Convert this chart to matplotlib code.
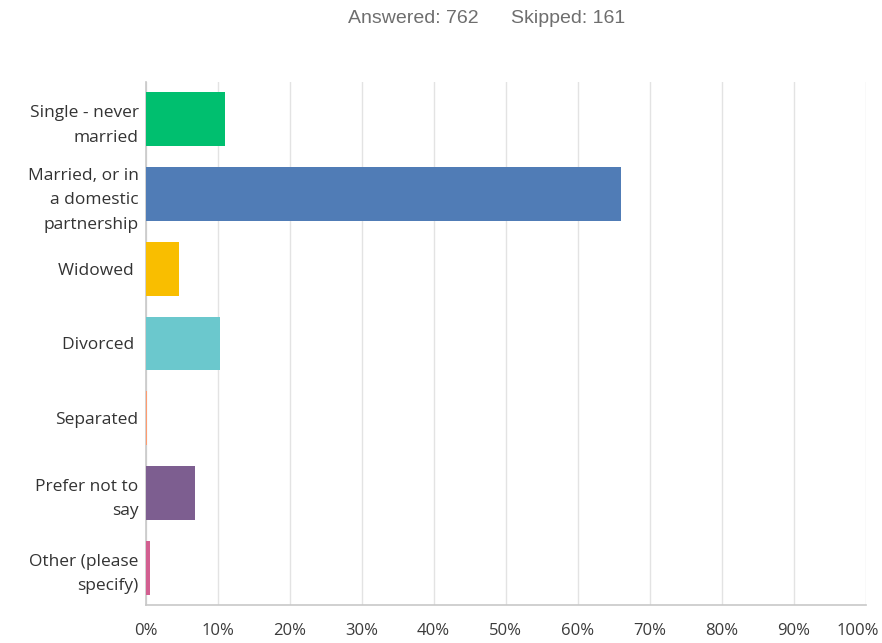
import matplotlib
matplotlib.use("Agg")
import matplotlib.pyplot as plt
import matplotlib.transforms as mtransforms

# Survey responses: marital status
categories = [
    "Single - never\nmarried",
    "Married, or in\na domestic\npartnership",
    "Widowed ",
    "Divorced ",
    "Separated",
    "Prefer not to\nsay",
    "Other (please\nspecify)",
]
percentages = [11.02, 66.01, 4.65, 10.37, 0.26, 6.82, 0.66]
colors = ["#00BF6F", "#507CB6", "#F9BE00", "#6BC8CD", "#FF9B6E", "#7D5E90", "#D25F90"]
x_ticks = [0, 10, 20, 30, 40, 50, 60, 70, 80, 90, 100]
x_tick_labels = [f"{t}%" for t in x_ticks]
answered = 762
skipped = 161

plt.rcParams["font.family"] = ["Open Sans", "DejaVu Sans"]

fig = plt.figure(figsize=(8.82, 6.43), dpi=100)
ax = fig.add_axes([0.165, 0.0591, 0.8165, 0.8134])

ypos = list(range(len(categories)))
ax.barh(ypos, percentages, height=0.72, color=colors, zorder=3)

ax.set_xlim(0, 100)
ax.set_ylim(6.5, -0.5)
ax.set_xticks(x_ticks)
ax.set_xticklabels(x_tick_labels, fontsize=12, color="#3b3b3b")
ax.set_yticks(ypos)
ax.set_yticklabels(categories, fontsize=12.5, color="#333333", linespacing=1.7)
ax.tick_params(axis="both", length=0)
ax.tick_params(axis="x", pad=13)
ax.tick_params(axis="y", pad=5)

# keep the last percentage label inside the figure
last = ax.get_xticklabels()[-1]
last.set_transform(last.get_transform() + mtransforms.ScaledTranslation(-8 / 100, 0, fig.dpi_scale_trans))

ax.grid(axis="x", color="#E3E3E3", linewidth=1, zorder=0)
ax.grid(axis="y", visible=False)
for side in ("top", "right"):
    ax.spines[side].set_visible(False)
for side in ("left", "bottom"):
    ax.spines[side].set_color("#C8C8C8")
    ax.spines[side].set_linewidth(1.2)

fig.text(0.5425, 0.971, f"Answered: {answered}", ha="right", va="center",
         fontsize=14, color="#6E6E6E", family=["Liberation Sans", "DejaVu Sans"])
fig.text(0.579, 0.971, f"Skipped: {skipped}", ha="left", va="center",
         fontsize=14, color="#6E6E6E", family=["Liberation Sans", "DejaVu Sans"])

fig.savefig("out.png", dpi=100)
